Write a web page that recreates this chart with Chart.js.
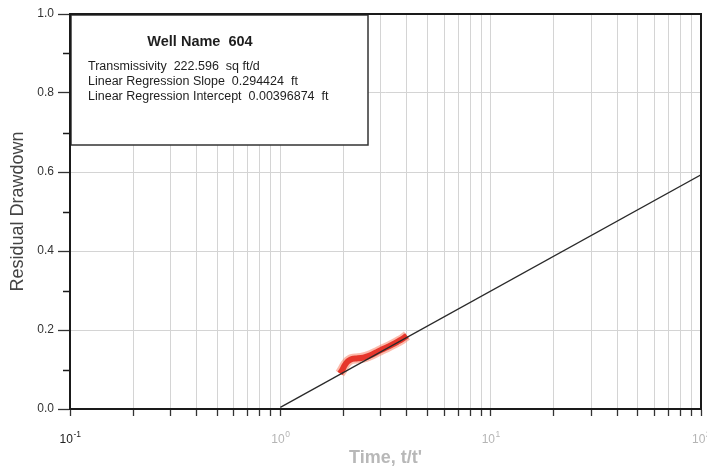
<!DOCTYPE html>
<html>
<head>
<meta charset="utf-8">
<script src="https://cdn.jsdelivr.net/npm/chart.js@4.4.1/dist/chart.umd.min.js"></script>
<style>
  body { margin: 0; background: #fff; }
  #wrap { width: 707px; height: 471px; }
</style>
</head>
<body>
<div id="wrap"><canvas id="myChart" width="707" height="471"></canvas></div>
<script>
// recovery test data, time ratio t/t' vs residual drawdown (ft)
var timeRatio = [1.92, 1.97, 2.02, 2.07, 2.12, 2.2, 2.3, 2.42, 2.55, 2.7, 2.85, 3.0, 3.2, 3.4, 3.6, 3.8, 4.0];
var drawdown  = [0.090, 0.099, 0.110, 0.118, 0.123, 0.127, 0.128, 0.129, 0.132, 0.137, 0.143, 0.149, 0.156, 0.163, 0.170, 0.177, 0.186];

// straight-line fit from the analysis box
var wellName = 'Well Name  604';
var transmissivity = 222.596;
var fitSlope = 0.294424;
var fitIntercept = 0.00396874;
var fitRange = [1, 100];

// axis ticks
var xTickValues = [0.1, 0.2, 0.3, 0.4, 0.5, 0.6, 0.7, 0.8, 0.9,
                   1, 2, 3, 4, 5, 6, 7, 8, 9,
                   10, 20, 30, 40, 50, 60, 70, 80, 90, 100];
var xDecades = [0.1, 1, 10, 100];
var xDecadeExp = ['-1', '0', '1', '2'];
var yTickValues = [0, 0.1, 0.2, 0.3, 0.4, 0.5, 0.6, 0.7, 0.8, 0.9, 1.0];

var FONT = "'Liberation Sans', Arial, sans-serif";

var points = timeRatio.map(function (t, i) { return { x: t, y: drawdown[i] }; });
var fitLine = fitRange.map(function (t) {
  return { x: t, y: fitIntercept + fitSlope * Math.log10(t) };
});

function isMajorY(v) {
  return Math.abs(Math.round(v * 10) % 2) === 0;
}

// white info box in the upper left corner
var infoBox = {
  id: 'infoBox',
  beforeDatasetsDraw: function (chart) {
    var ctx = chart.ctx, a = chart.chartArea;
    var x0 = a.left, y0 = a.top, x1 = 368, y1 = 145;
    ctx.save();
    ctx.fillStyle = '#fff';
    ctx.fillRect(x0, y0, x1 - x0, y1 - y0);
    ctx.strokeStyle = '#333';
    ctx.lineWidth = 1.5;
    ctx.strokeRect(x0 + 1, y0 + 1, x1 - x0 - 1, y1 - y0 - 1);

    ctx.fillStyle = '#1e1e1e';
    ctx.textBaseline = 'middle';
    ctx.font = 'bold 14.5px ' + FONT;
    ctx.textAlign = 'center';
    ctx.fillText(wellName, 200, 42);

    ctx.textAlign = 'left';
    ctx.font = '12.5px ' + FONT;
    ctx.fillText('Transmissivity  ' + transmissivity + '  sq ft/d', 88, 67);
    ctx.fillText('Linear Regression Slope  ' + fitSlope + '  ft', 88, 82);
    ctx.fillText('Linear Regression Intercept  ' + fitIntercept + '  ft', 88, 97);
    ctx.restore();
  }
};

// frame, minor y ticks and the 10^n labels
var frame = {
  id: 'frame',
  afterDraw: function (chart) {
    var ctx = chart.ctx, a = chart.chartArea;
    var xs = chart.scales.x, ys = chart.scales.y;
    ctx.save();
    ctx.strokeStyle = '#1a1a1a';
    ctx.lineWidth = 2;
    ctx.strokeRect(a.left, a.top, a.right - a.left, a.bottom - a.top);

    ctx.lineWidth = 1.3;
    ctx.beginPath();
    yTickValues.forEach(function (v) {
      if (isMajorY(v)) return;
      var py = Math.round(ys.getPixelForValue(v)) + 0.5;
      ctx.moveTo(a.left - 7, py);
      ctx.lineTo(a.left, py);
    });
    ctx.stroke();

    ctx.textBaseline = 'alphabetic';
    xDecades.forEach(function (v, i) {
      var px = xs.getPixelForValue(v);
      ctx.fillStyle = i === 0 ? '#222' : '#b5b5b5';
      ctx.font = '12px ' + FONT;
      var w1 = ctx.measureText('10').width;
      ctx.font = '8.5px ' + FONT;
      var w2 = ctx.measureText(xDecadeExp[i]).width;
      var sx = px - (w1 + w2) / 2;
      ctx.font = '12px ' + FONT;
      ctx.textAlign = 'left';
      ctx.fillText('10', sx, 443);
      ctx.font = '8.5px ' + FONT;
      ctx.fillText(xDecadeExp[i], sx + w1 + 0.5, 437);
    });
    ctx.restore();
  }
};

new Chart(document.getElementById('myChart'), {
  type: 'scatter',
  data: {
    datasets: [
      {
        data: fitLine,
        showLine: true,
        borderColor: '#2a2a2a',
        borderWidth: 1.3,
        pointRadius: 0,
        order: 0
      },
      {
        data: points,
        showLine: true,
        borderColor: 'rgba(228, 40, 30, 0.9)',
        borderWidth: 6,
        pointRadius: 0,
        tension: 0.3,
        order: 1
      },
      {
        data: points,
        showLine: true,
        borderColor: 'rgba(250, 120, 90, 0.5)',
        borderWidth: 10,
        pointRadius: 0,
        tension: 0.3,
        order: 2
      }
    ]
  },
  options: {
    responsive: false,
    animation: false,
    layout: { padding: { top: 14, right: 6, left: 0, bottom: 0 } },
    plugins: {
      legend: { display: false },
      tooltip: { enabled: false }
    },
    scales: {
      x: {
        type: 'logarithmic',
        min: 0.1,
        max: 100,
        afterBuildTicks: function (s) {
          s.ticks = xTickValues.map(function (v) { return { value: v }; });
        },
        afterFit: function (s) { s.height = 62; },
        grid: {
          color: '#d4d4d4',
          lineWidth: 1,
          drawTicks: true,
          tickLength: 7,
          tickColor: '#333',
          tickWidth: 1.3
        },
        border: { color: '#1a1a1a', width: 2 },
        ticks: {
          autoSkip: false,
          maxRotation: 0,
          callback: function () { return ''; }
        },
        title: {
          display: true,
          text: "Time, t/t'",
          color: '#b8b8b8',
          font: { family: FONT, size: 18, weight: 'bold' },
          padding: { top: 0, bottom: 2 }
        }
      },
      y: {
        min: 0,
        max: 1,
        afterBuildTicks: function (s) {
          s.ticks = yTickValues.map(function (v) { return { value: v }; });
        },
        afterFit: function (s) { s.width = 70; },
        grid: {
          color: function (c) { return c.tick && isMajorY(c.tick.value) ? '#d4d4d4' : 'rgba(0,0,0,0)'; },
          tickColor: function (c) { return c.tick && isMajorY(c.tick.value) ? '#333' : 'rgba(0,0,0,0)'; },
          tickLength: 12,
          tickWidth: 1.3
        },
        border: { color: '#1a1a1a', width: 1.5 },
        ticks: {
          padding: 4,
          color: '#333',
          font: { family: FONT, size: 12 },
          callback: function (v) { return isMajorY(v) ? v.toFixed(1) : ''; }
        },
        title: {
          display: true,
          text: 'Residual Drawdown',
          color: '#444',
          font: { family: FONT, size: 18 },
          padding: { top: 7, bottom: 0 }
        }
      }
    }
  },
  plugins: [infoBox, frame]
});
</script>
</body>
</html>
